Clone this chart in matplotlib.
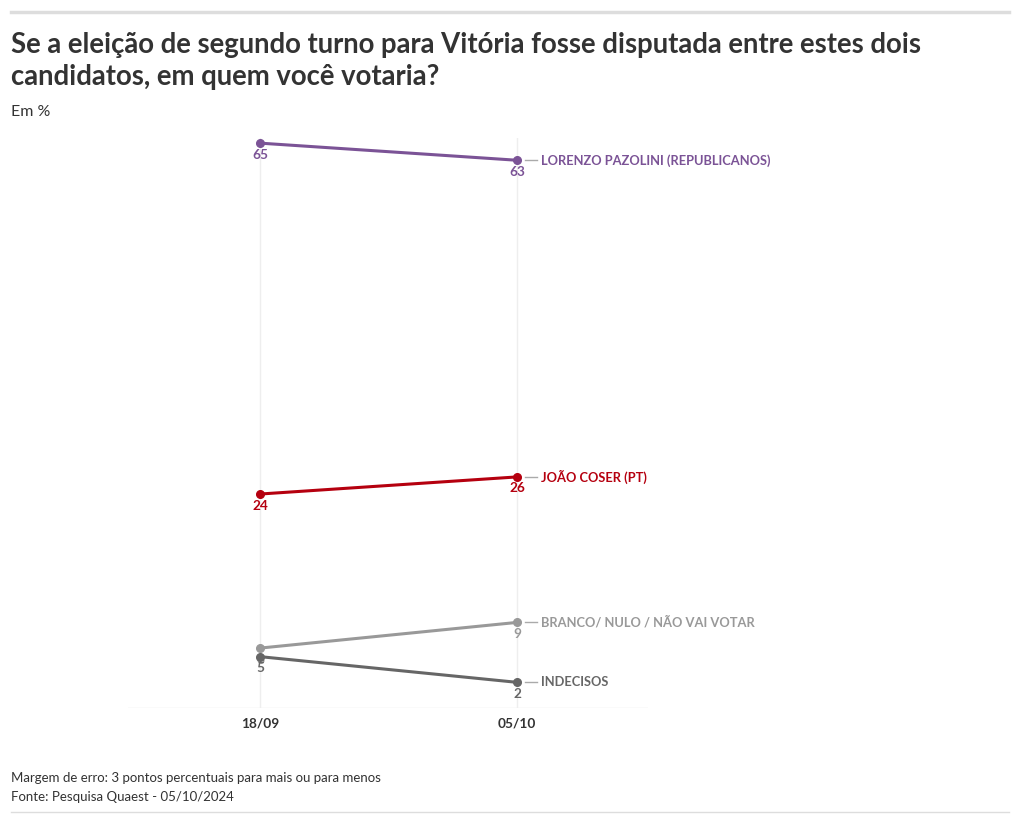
import matplotlib.pyplot as plt
from matplotlib.lines import Line2D

plt.rcParams['font.family'] = ['Lato', 'DejaVu Sans']

dates = ['18/09', '05/10']
series_names = ['LORENZO PAZOLINI (REPUBLICANOS)', 'JOÃO COSER (PT)',
                'BRANCO/ NULO / NÃO VAI VOTAR', 'INDECISOS']
series_values = [[65, 63], [24, 26], [6, 9], [5, 2]]
series_colors = ['#7b5396', '#b5000f', '#999999', '#666666']

W, H = 1020, 823
fig = plt.figure(figsize=(W / 100, H / 100), dpi=100)


def fx(px):
    return px / W


def fy(py):
    return 1 - py / H


ax = fig.add_axes([fx(128), fy(708), fx(648 - 128), (708 - 138) / H])
ax.set_xlim(-0.514, 1.51)
ax.set_ylim(-1.0, 65.6)
for s in ax.spines.values():
    s.set_visible(False)
ax.axhline(-1.0, color='#e6e6e6', lw=1, zorder=0)
for i in range(len(dates)):
    ax.axvline(i, color='#eeeeee', lw=1, zorder=0)
ax.set_yticks([])
ax.set_xticks(range(len(dates)))
ax.set_xticklabels(dates, fontsize=9.8, fontweight='bold', color='#333333')
ax.tick_params(axis='x', length=0, pad=7)

x = list(range(len(dates)))
for name, vals, col in zip(series_names, series_values, series_colors):
    ax.plot(x, vals, color=col, lw=2.2, marker='o', ms=5.5, zorder=3)
    for xi, v in zip(x, vals):
        ax.annotate(str(v), (xi, v), xytext=(0, -4), textcoords='offset points',
                    ha='center', va='top', fontsize=9.8, fontweight='bold', color=col)
    ax.plot([x[-1] + 0.03, x[-1] + 0.078], [vals[-1], vals[-1]], color='#aaaaaa',
            lw=1, clip_on=False)
    ax.annotate(name, (x[-1], vals[-1]), xytext=(17, 0), textcoords='offset points',
                ha='left', va='center', fontsize=9.3, fontweight='bold', color=col)

fig.add_artist(Line2D([fx(11), fx(1009)], [fy(12), fy(12)], color='#dddddd', lw=2.5))
fig.add_artist(Line2D([fx(11), fx(1009)], [fy(812), fy(812)], color='#dddddd', lw=1))

fig.text(fx(11), fy(61), 'Se a eleição de segundo turno para Vitória fosse disputada entre estes dois\n'
         'candidatos, em quem você votaria?', fontsize=19.8, fontweight='bold',
         color='#333333', va='center', ha='left', linespacing=1.3)
fig.text(fx(11), fy(112), 'Em %', fontsize=11.5, color='#333333', va='center')
fig.text(fx(11), fy(778), 'Margem de erro: 3 pontos percentuais para mais ou para menos',
         fontsize=9.5, color='#333333', va='center')
fig.text(fx(11), fy(797), 'Fonte: Pesquisa Quaest - 05/10/2024',
         fontsize=9.5, color='#333333', va='center')

fig.savefig('out.png', dpi=100, facecolor='white')
